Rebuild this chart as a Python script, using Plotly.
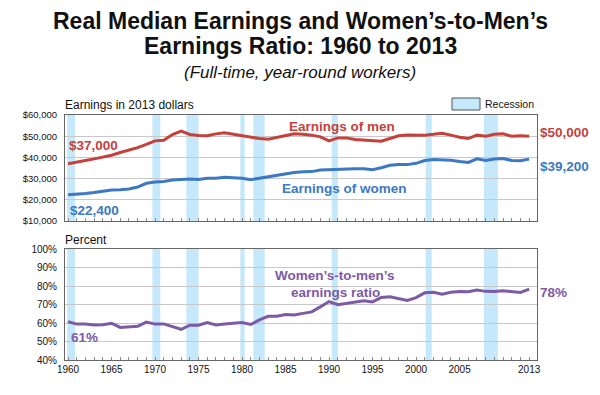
import plotly.graph_objects as go

years = list(range(1960, 2014))
men = [37000, 37900, 38500, 39300, 40100, 41000, 42300, 43400, 44600, 46100,
       47800, 48100, 50800, 52400, 50800, 50300, 50200, 51100, 51600, 50900,
       50200, 49800, 48900, 48600, 49400, 50200, 51100, 50900, 50500, 49700,
       47800, 49200, 49200, 48400, 48100, 47900, 47600, 48900, 50200, 50600,
       50500, 50500, 50900, 51400, 50500, 49500, 48900, 50500, 50000, 50900,
       51100, 50000, 50200, 50000]
women = [22400, 22600, 23000, 23400, 24000, 24600, 24700, 25100, 26000, 27800,
         28400, 28600, 29300, 29600, 29800, 29600, 30200, 30200, 30600, 30400,
         30200, 29500, 30200, 31000, 31600, 32300, 32900, 33200, 33300, 34100,
         34300, 34400, 34700, 34600, 34600, 34200, 35100, 36300, 36700, 36600,
         37200, 38500, 39000, 38800, 38700, 38100, 37600, 39300, 38600, 39200,
         39500, 38500, 38400, 39200]
ratio = [60.7, 59.4, 59.5, 58.9, 59.1, 59.9, 57.6, 57.8, 58.2, 60.5,
         59.4, 59.5, 57.9, 56.6, 58.8, 58.8, 60.2, 58.9, 59.4, 59.7,
         60.2, 59.2, 61.7, 63.6, 63.7, 64.6, 64.3, 65.2, 66.0, 68.7,
         71.6, 69.9, 70.6, 71.5, 72.0, 71.4, 73.8, 74.2, 73.2, 72.2,
         73.7, 76.3, 76.6, 75.5, 76.6, 77.0, 76.9, 77.8, 77.1, 77.0,
         77.4, 77.0, 76.5, 78.3]
recessions = [(1959.9, 1960.8), (1969.7, 1970.6), (1973.6, 1975.0), (1979.8, 1980.3),
              (1981.3, 1982.6), (1990.3, 1991.0), (2001.1, 2001.8), (2007.8, 2009.4)]
label_years = [1960, 1965, 1970, 1975, 1980, 1985, 1990, 1995, 2000, 2005, 2013]

RED = "#C6403C"
BLUE = "#3D78C2"
PURPLE = "#7D5AA6"
SHADE = "#C5E8FA"
FONT = "Liberation Sans, Arial, sans-serif"

PAGE_W, PAGE_H = 600, 395
OFF = 8  # default page body margin
W, H = PAGE_W - OFF, PAGE_H - OFF
L, R, T, B = 65, 537, 115, 360  # plot area in page pixels
def px(x):
    return (x - L) / (R - L)
def py(y):
    return (B - y) / (B - T)

fig = go.Figure()
fig.add_trace(go.Scatter(x=years, y=men, mode="lines", line=dict(color=RED, width=3),
                         xaxis="x", yaxis="y", showlegend=False))
fig.add_trace(go.Scatter(x=years, y=women, mode="lines", line=dict(color=BLUE, width=3),
                         xaxis="x", yaxis="y", showlegend=False))
fig.add_trace(go.Scatter(x=years, y=ratio, mode="lines", line=dict(color=PURPLE, width=3),
                         xaxis="x2", yaxis="y2", showlegend=False))

shapes = []
for a, b in recessions:
    for xr, yr in (("x", "y domain"), ("x2", "y2 domain")):
        shapes.append(dict(type="rect", xref=xr, yref=yr, x0=a, x1=b, y0=0, y1=1,
                           fillcolor=SHADE, line=dict(width=0), layer="below"))
# legend box
shapes.append(dict(type="rect", xref="paper", yref="paper", x0=px(452), x1=px(480),
                   y0=py(110), y1=py(98), fillcolor=SHADE, line=dict(color="#555", width=1)))

tickvals = years
ticktext = [str(y) if y in label_years else "" for y in years]
xrange_ = [1959.65, 2013.9]

common_x = dict(range=xrange_, domain=[0, 1], showgrid=False, zeroline=False, automargin=False,
                tickvals=tickvals, ticktext=ticktext, ticks="inside", ticklen=3,
                tickcolor="#888", showline=True, linecolor="#666", linewidth=1, mirror=True,
                tickfont=dict(family=FONT, size=10, color="#111"))

fig.update_layout(
    width=W, height=H,
    margin=dict(l=L - OFF, r=PAGE_W - R, t=T - OFF, b=PAGE_H - B, autoexpand=False),
    plot_bgcolor="white", paper_bgcolor="white",
    xaxis=dict(anchor="y", showticklabels=False, **common_x),
    xaxis2=dict(anchor="y2", matches="x", showticklabels=True, **common_x),
    yaxis=dict(domain=[py(221), py(115)], range=[10000, 60000], tickvals=[10000, 20000, 30000, 40000, 50000, 60000],
               tickformat="$,", showgrid=True, gridcolor="#C8C8C8", gridwidth=1, zeroline=False,
               showline=True, linecolor="#666", linewidth=1, mirror=True, ticks="", automargin=False,
               ticklabelstandoff=5, tickfont=dict(family=FONT, size=9.5, color="#111")),
    yaxis2=dict(domain=[py(360), py(249)], range=[40, 100], dtick=10, ticksuffix="%",
                showgrid=True, gridcolor="#C8C8C8", gridwidth=1, zeroline=False, automargin=False,
                showline=True, linecolor="#666", linewidth=1, mirror=True, ticks="",
                ticklabelstandoff=5, tickfont=dict(family=FONT, size=10, color="#111")),
    shapes=shapes,
)

def ann(text, x, y, size, color="#111", bold=False, italic=False, xanchor="center"):
    t = text
    if bold:
        t = "<b>" + t + "</b>"
    if italic:
        t = "<i>" + t + "</i>"
    fig.add_annotation(text=t, x=px(x), y=py(y), xref="paper", yref="paper", xanchor=xanchor,
                       yanchor="middle", showarrow=False, borderpad=0,
                       font=dict(family=FONT, size=size, color=color))

ann("Real Median Earnings and Women’s-to-Men’s", 300, 21, 23, bold=True)
ann("Earnings Ratio: 1960 to 2013", 300, 46, 23, bold=True)
ann("(Full-time, year-round workers)", 300, 73, 17, italic=True)
ann("Earnings in 2013 dollars", 64, 105, 12, xanchor="left")
ann("Percent", 64, 240, 12, xanchor="left")
ann("Recession", 484, 104, 10.5, xanchor="left")

ann("$%s" % format(men[0], ","), 68, 145, 13.5, RED, bold=True, xanchor="left")
ann("$%s" % format(women[0], ","), 69, 210, 13.5, BLUE, bold=True, xanchor="left")
ann("$%s" % format(men[-1], ","), 539, 132, 13.5, RED, bold=True, xanchor="left")
ann("$%s" % format(women[-1], ","), 539, 166, 13.5, BLUE, bold=True, xanchor="left")
ann("Earnings of men", 342, 126, 13.5, RED, bold=True)
ann("Earnings of women", 344, 188, 13.5, BLUE, bold=True)
ann("Women’s-to-men’s", 335, 275, 13.5, PURPLE, bold=True)
ann("earnings ratio", 335, 292, 13.5, PURPLE, bold=True)
ann("%d%%" % round(ratio[0]), 70, 337, 13.5, PURPLE, bold=True, xanchor="left")
ann("%d%%" % round(ratio[-1]), 539, 292, 13.5, PURPLE, bold=True, xanchor="left")

fig.write_html("out.html")
